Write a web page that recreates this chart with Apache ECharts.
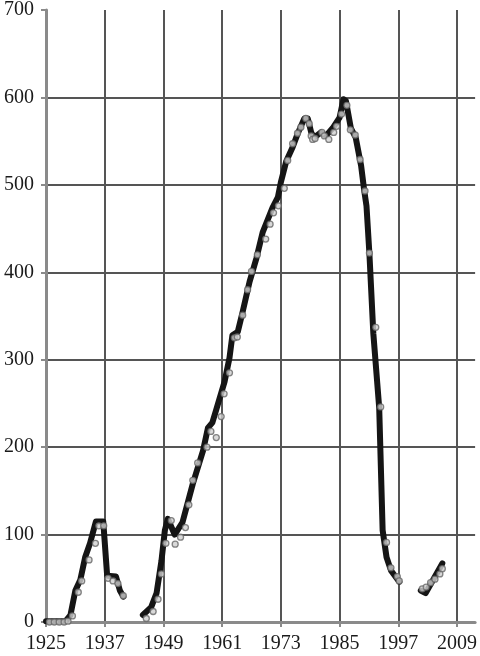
<!DOCTYPE html>
<html>
<head>
<meta charset="utf-8">
<style>
  html, body { margin: 0; padding: 0; background: #fff; }
  #main { width: 480px; height: 656px; }
</style>
<script src="https://cdn.jsdelivr.net/npm/echarts@6/dist/echarts.min.js"></script>
</head>
<body>
<div id="main"></div>
<script>
// observed points (grey markers)
var pointYears = [1925.7, 1926.7, 1927.7, 1928.7, 1929.5, 1930.4, 1931.6, 1932.3, 1933.8, 1935.1, 1935.8, 1936.8, 1937.7, 1938.7, 1939.7, 1940.8,
  1945.5, 1946.9, 1947.9, 1948.6, 1949.5, 1950.6, 1951.4, 1952.5, 1953.5, 1954.2, 1955.0, 1956.0, 1957.9, 1958.7, 1959.8, 1960.8,
  1961.4, 1962.5, 1963.5, 1964.1, 1965.2, 1966.2, 1967.0, 1968.2, 1969.9, 1970.8, 1971.5, 1972.5, 1973.7, 1974.4, 1975.4, 1976.4,
  1977.1, 1978.1, 1978.8, 1979.2, 1979.5, 1980.0, 1981.4, 1981.9, 1982.8, 1983.8, 1984.4, 1985.4, 1986.5, 1987.2, 1988.2, 1989.2,
  1990.2, 1991.1, 1992.4, 1993.4, 1994.6, 1995.5, 1996.8, 1997.2,
  2001.9, 2002.7, 2003.6, 2004.5, 2005.5, 2006.0];
var pointValues = [0, 0, 0, 0, 1, 7, 34, 47, 71, 90, 110, 110, 50, 47, 44, 30,
  4, 12, 26, 55, 90, 116, 89, 97, 108, 134, 162, 182, 200, 218, 211, 235,
  261, 285, 325, 326, 351, 380, 401, 420, 438, 455, 468, 476, 496, 528, 547, 559,
  566, 576, 570, 556, 552, 553, 560, 556, 552, 560, 567, 581, 591, 563, 557, 529,
  493, 422, 337, 246, 91, 62, 52, 47,
  38, 40, 45, 49, 55, 61];

// thick black trend line, null = gap
var trendYears = [1925, 1929, 1930, 1931, 1932, 1933, 1934, 1935.2, 1936.7, 1937.5, 1939.3, 1940.1, 1940.8,
  1942,
  1944.8, 1946.5, 1947.6, 1948.6, 1949.3, 1949.9, 1951.3, 1952.9, 1955.0, 1957.1, 1958.1, 1959.0, 1959.8,
  1961.5, 1962.5, 1963.1, 1964.2, 1965.2, 1966.6, 1968.0, 1969.3, 1971.3, 1972.4, 1973.0, 1974.1, 1975.4,
  1976.4, 1977.8, 1978.5, 1979.2, 1979.8, 1981.2, 1982.2, 1983.6, 1985.0, 1985.8, 1986.3, 1987.3, 1988.3,
  1989.4, 1990.0, 1990.5, 1991.1, 1991.9, 1993.1, 1993.8, 1994.6, 1995.5, 1997.2,
  1999,
  2001.6, 2002.6, 2004.3, 2006.0];
var trendValues = [1, 1, 8, 36, 48, 74, 90, 115, 115, 53, 52, 36, 29,
  null,
  8, 17, 33, 70, 105, 118, 100, 114, 158, 196, 222, 228, 243,
  275, 302, 328, 332, 355, 389, 416, 446, 474, 486, 503, 527, 543,
  558, 576, 576, 560, 554, 560, 556, 565, 577, 598, 596, 565, 554,
  522, 495, 476, 421, 330, 245, 105, 74, 59, 46,
  null,
  36, 33, 50, 67];

var pointData = pointYears.map(function (y, i) { return [y, pointValues[i]]; });
var trendData = trendYears.map(function (y, i) { return [y, trendValues[i] === null ? '-' : trendValues[i]]; });

var myChart = echarts.init(document.getElementById('main'));
var serif = 'Liberation Serif, DejaVu Serif, serif';
var grid = '#555';
var none = 'rgba(0,0,0,0)';

var option = {
  animation: false,
  backgroundColor: '#fff',
  grid: { left: 46, right: 4, top: 6, bottom: 34 },
  xAxis: {
    type: 'value',
    min: 1925,
    max: 2012.7,
    interval: 12,
    axisLine: { show: true, lineStyle: { color: '#8a8a8a', width: 3 } },
    axisTick: { show: true, length: 5, lineStyle: { color: '#8a8a8a', width: 2 } },
    axisLabel: {
      margin: 12, showMaxLabel: false,
      fontFamily: serif, fontSize: 20, color: '#1a1a1a',
      formatter: function (v) { return String(v); }
    },
    // last line (right edge) hidden
    splitLine: { show: true, lineStyle: { color: [none, grid, grid, grid, grid, grid, grid, grid, none], width: 2 } }
  },
  yAxis: {
    type: 'value',
    min: 0,
    max: 700,
    interval: 100,
    axisLine: { show: true, lineStyle: { color: '#8a8a8a', width: 3 } },
    axisTick: { show: true, length: 5, lineStyle: { color: '#8a8a8a', width: 2 } },
    axisLabel: { margin: 12, fontFamily: serif, fontSize: 20, color: '#1a1a1a' },
    splitLine: { show: true, lineStyle: { color: [none, grid, grid, grid, grid, grid, grid, none], width: 2 } }
  },
  series: [
    {
      type: 'line',
      data: trendData,
      showSymbol: false,
      connectNulls: false,
      lineStyle: { color: '#151515', width: 6, join: 'round', cap: 'round' },
      z: 3
    },
    {
      type: 'scatter',
      data: pointData,
      symbol: 'circle',
      symbolSize: 6,
      itemStyle: { color: '#cfcfcf', borderColor: '#666', borderWidth: 1.3 },
      z: 4
    }
  ]
};
myChart.setOption(option);
</script>
</body>
</html>
